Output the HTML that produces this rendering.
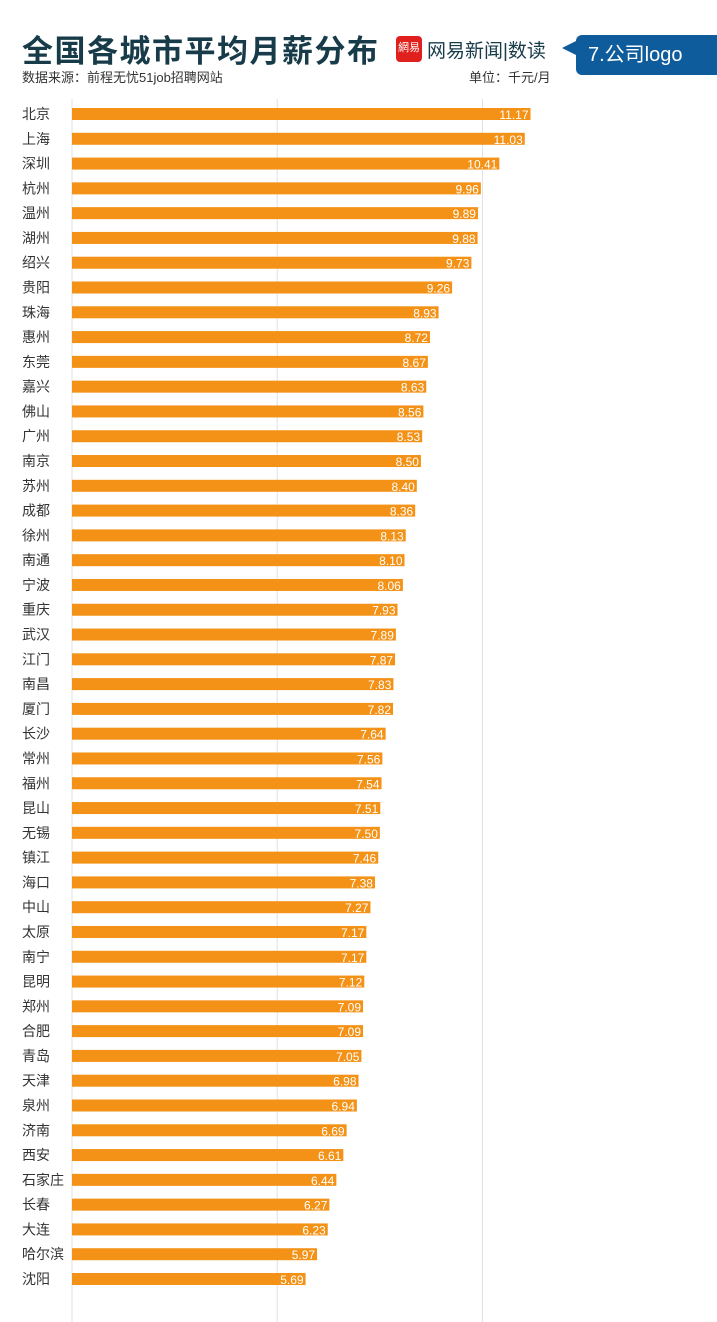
<!DOCTYPE html>
<html><head><meta charset="utf-8">
<style>
body{margin:0;width:717px;height:1322px;background:#fff;font-family:"Liberation Sans","Noto Sans CJK SC",sans-serif;position:relative;overflow:hidden}
.t{position:absolute;white-space:nowrap}
</style></head><body>
<div class="t" style="left:22px;top:26px;font-size:31px;font-weight:bold;color:#173b48;letter-spacing:1.5px">全国各城市平均月薪分布</div>
<div class="t" style="left:396px;top:36px;width:26px;height:26px;background:#e0201c;border-radius:4px;color:#fff;font-size:11px;text-align:center;line-height:24px">網易</div>
<div class="t" style="left:427px;top:36px;font-size:19px;color:#173b48">网易新闻|数读</div>
<div class="t" style="left:576px;top:35px;width:141px;height:40px;background:#0e5c9c;border-radius:6px 0 0 6px;color:#fff;font-size:20px;line-height:40px;padding-left:12px;box-sizing:border-box">7.公司logo</div>
<div class="t" style="left:562px;top:41px;width:0;height:0;border-top:7px solid transparent;border-bottom:7px solid transparent;border-right:14px solid #0e5c9c"></div>
<div class="t" style="left:22px;top:67px;font-size:13px;color:#333">数据来源：前程无忧51job招聘网站</div>
<div class="t" style="left:469px;top:67px;font-size:13px;color:#333">单位：千元/月</div>
<svg id="chart" class="t" style="left:0;top:0" width="717" height="1322"></svg>
<script>
const cities=["北京","上海","深圳","杭州","温州","湖州","绍兴","贵阳","珠海","惠州","东莞","嘉兴","佛山","广州","南京","苏州","成都","徐州","南通","宁波","重庆","武汉","江门","南昌","厦门","长沙","常州","福州","昆山","无锡","镇江","海口","中山","太原","南宁","昆明","郑州","合肥","青岛","天津","泉州","济南","西安","石家庄","长春","大连","哈尔滨","沈阳"];
const values=[11.17,11.03,10.41,9.96,9.89,9.88,9.73,9.26,8.93,8.72,8.67,8.63,8.56,8.53,8.50,8.40,8.36,8.13,8.10,8.06,7.93,7.89,7.87,7.83,7.82,7.64,7.56,7.54,7.51,7.50,7.46,7.38,7.27,7.17,7.17,7.12,7.09,7.09,7.05,6.98,6.94,6.69,6.61,6.44,6.27,6.23,5.97,5.69];
const gridTicks=[0,5,10];
const svg=document.getElementById('chart');
const NS='http://www.w3.org/2000/svg';
const x=v=>72+v*41.05;
const y=i=>114+i*(1279-114)/(cities.length-1);
for(const g of gridTicks){
  const l=document.createElementNS(NS,'line');
  
  
  l.setAttribute('x1',x(g));l.setAttribute('x2',x(g));l.setAttribute('y1',99);l.setAttribute('y2',1322);
  l.setAttribute('stroke','#dde3e6');l.setAttribute('stroke-width',1);
  svg.appendChild(l);
}
cities.forEach((c,i)=>{
  const cy=y(i);
  const r=document.createElementNS(NS,'rect');
  
  
  r.setAttribute('x',x(0));r.setAttribute('y',cy-6);r.setAttribute('width',x(values[i])-x(0));r.setAttribute('height',12);
  r.setAttribute('fill','#f39216');
  svg.appendChild(r);
  const t=document.createElementNS(NS,'text');
  
  
  t.setAttribute('x',22);t.setAttribute('y',cy+5);t.setAttribute('font-size',14);t.setAttribute('fill','#333');
  t.textContent=c;svg.appendChild(t);
  const v=document.createElementNS(NS,'text');
  
  
  v.setAttribute('x',x(values[i])-2);v.setAttribute('y',cy+5);v.setAttribute('font-size',12);v.setAttribute('fill','#fff');v.setAttribute('text-anchor','end');
  v.textContent=values[i].toFixed(2);svg.appendChild(v);
});
</script>
</body></html>
